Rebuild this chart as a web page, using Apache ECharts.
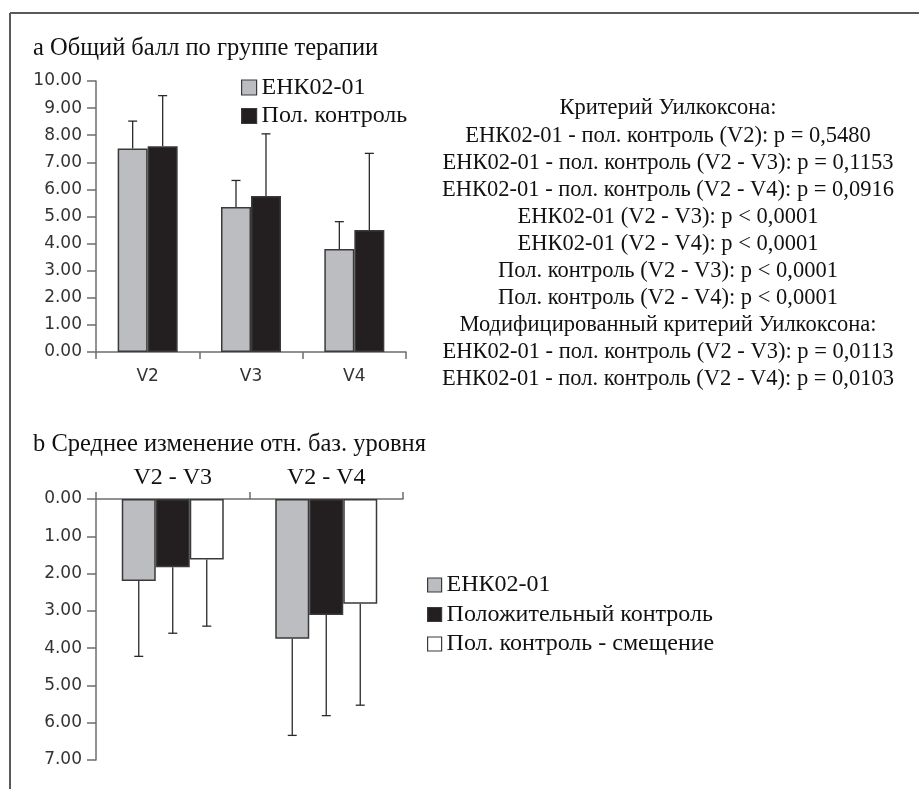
<!DOCTYPE html>
<html>
<head>
<meta charset="utf-8">
<script src="https://cdn.jsdelivr.net/npm/echarts@6/dist/echarts.min.js"></script>
<style>
html,body{margin:0;padding:0;background:#fff;}
#chart{width:919px;height:789px;}
</style>
</head>
<body>
<div id="chart"></div>
<script>
// ---- Data ----
const categoriesA = ['V2', 'V3', 'V4'];
const enkMeanA = [7.51, 5.35, 3.80];
const enkErrTopA = [8.52, 6.33, 4.81];
const ctrlMeanA = [7.59, 5.76, 4.50];
const ctrlErrTopA = [9.46, 8.05, 7.33];

const categoriesB = ['V2 - V3', 'V2 - V4'];
const enkMeanB = [2.20, 3.75];
const enkErrTopB = [4.22, 6.34];
const ctrlMeanB = [1.83, 3.11];
const ctrlErrTopB = [3.60, 5.81];
const shiftMeanB = [1.62, 2.81];
const shiftErrTopB = [3.41, 5.53];

const titleA = 'a Общий балл по группе терапии';
const titleB = 'b Среднее изменение отн. баз. уровня';
const legendA = ['ЕНК02-01', 'Пол. контроль'];
const legendB = ['ЕНК02-01', 'Положительный контроль', 'Пол. контроль - смещение'];
const statsLines = [
  'Критерий Уилкоксона:',
  'ЕНК02-01 - пол. контроль (V2): p = 0,5480',
  'ЕНК02-01 - пол. контроль (V2 - V3): p = 0,1153',
  'ЕНК02-01 - пол. контроль (V2 - V4): p = 0,0916',
  'ЕНК02-01 (V2 - V3): p < 0,0001',
  'ЕНК02-01 (V2 - V4): p < 0,0001',
  'Пол. контроль (V2 - V3): p < 0,0001',
  'Пол. контроль (V2 - V4): p < 0,0001',
  'Модифицированный критерий Уилкоксона:',
  'ЕНК02-01 - пол. контроль (V2 - V3): p = 0,0113',
  'ЕНК02-01 - пол. контроль (V2 - V4): p = 0,0103'
];

// ---- Styles ----
const SERIF = 'Liberation Serif';
const SANS = 'DejaVu Sans';
const GRAY = '#bcbdc1';
const BLACK = '#231f20';
const WHITE = '#ffffff';
const BORDER = '#3a3a3a';
const AXIS = '#6e6e6e';
const LABEL = '#333333';

function errRender(nBars, barW, idx) {
  return function (params, api) {
    const c = api.value(0), v = api.value(1), e = api.value(2);
    const base = api.coord([c, v]);
    const end = api.coord([c, e]);
    const x = base[0] + (idx - (nBars - 1) / 2) * barW;
    const style = { stroke: '#2a2a2a', lineWidth: 1.3 };
    return {
      type: 'group',
      children: [
        { type: 'line', shape: { x1: x, y1: base[1], x2: x, y2: end[1] }, style: style },
        { type: 'line', shape: { x1: x - 4.5, y1: end[1], x2: x + 4.5, y2: end[1] }, style: style }
      ]
    };
  };
}

function errData(means, tops) {
  return means.map((m, i) => [i, m, tops[i]]);
}

const chart = echarts.init(document.getElementById('chart'), null, { renderer: 'canvas' });

const legendText = { fontFamily: SERIF, fontSize: 24, color: '#111' };

const option = {
  animation: false,
  backgroundColor: '#fff',
  title: [
    { text: titleA, left: 33, top: 37, padding: 0, textStyle: { fontFamily: SERIF, fontSize: 24.5, fontWeight: 'normal', color: '#111', lineHeight: 24 } },
    { text: titleB, left: 33, top: 433, padding: 0, textStyle: { fontFamily: SERIF, fontSize: 24.5, fontWeight: 'normal', color: '#111', lineHeight: 24 } },
    { text: statsLines.join('\n'), left: 668, top: 95, padding: 0, textAlign: 'center',
      textStyle: { fontFamily: SERIF, fontSize: 22.5, fontWeight: 'normal', color: '#111', lineHeight: 27.1, align: 'center' } }
  ],
  legend: [
    {
      orient: 'vertical', left: 241, top: 75.5, padding: 0, itemWidth: 15, itemHeight: 15, itemGap: 4.5,
      textStyle: legendText, icon: 'rect',
      data: [
        { name: legendA[0], itemStyle: { color: GRAY, borderColor: BORDER, borderWidth: 1.2 } },
        { name: legendA[1], itemStyle: { color: BLACK, borderColor: BORDER, borderWidth: 1.2 } }
      ]
    },
    {
      orient: 'vertical', left: 427, top: 573, padding: 0, itemWidth: 14, itemHeight: 14, itemGap: 5.5,
      textStyle: legendText, icon: 'rect',
      data: [
        { name: legendB[0], itemStyle: { color: GRAY, borderColor: BORDER, borderWidth: 1.2 } },
        { name: legendB[1], itemStyle: { color: BLACK, borderColor: BORDER, borderWidth: 1.2 } },
        { name: legendB[2], itemStyle: { color: WHITE, borderColor: BORDER, borderWidth: 1.2 } }
      ]
    }
  ],
  grid: [
    { left: 96, top: 81, width: 310, height: 271 },
    { left: 96, top: 499, width: 307, height: 261 }
  ],
  xAxis: [
    {
      gridIndex: 0, type: 'category', data: categoriesA,
      axisLine: { lineStyle: { color: AXIS, width: 1.5 } },
      axisTick: { show: true, length: 7, alignWithLabel: false, lineStyle: { color: AXIS, width: 1.5 } },
      axisLabel: { fontFamily: SANS, fontSize: 17, color: LABEL, margin: 16 }
    },
    {
      gridIndex: 1, type: 'category', data: categoriesB, position: 'top',
      axisLine: { lineStyle: { color: AXIS, width: 1.5 } },
      axisTick: { show: true, length: 7, alignWithLabel: false, lineStyle: { color: AXIS, width: 1.5 } },
      axisLabel: { fontFamily: SERIF, fontSize: 24, color: '#111', margin: 9 }
    }
  ],
  yAxis: [
    {
      gridIndex: 0, type: 'value', min: 0, max: 10, interval: 1,
      axisLine: { show: true, lineStyle: { color: AXIS, width: 1.5 } },
      axisTick: { show: true, length: 9, lineStyle: { color: AXIS, width: 1.5 } },
      splitLine: { show: false },
      axisLabel: { fontFamily: SANS, fontSize: 17, color: LABEL, margin: 14, formatter: v => v.toFixed(2) }
    },
    {
      gridIndex: 1, type: 'value', min: 0, max: 7, interval: 1, inverse: true,
      axisLine: { show: true, lineStyle: { color: AXIS, width: 1.5 } },
      axisTick: { show: true, length: 9, lineStyle: { color: AXIS, width: 1.5 } },
      splitLine: { show: false },
      axisLabel: { fontFamily: SANS, fontSize: 17, color: LABEL, margin: 14, formatter: v => v.toFixed(2) }
    }
  ],
  series: [
    { name: legendA[0], type: 'bar', xAxisIndex: 0, yAxisIndex: 0, data: enkMeanA, barWidth: 30, barGap: '0%',
      itemStyle: { color: GRAY, borderColor: BORDER, borderWidth: 1.5 } },
    { name: legendA[1], type: 'bar', xAxisIndex: 0, yAxisIndex: 0, data: ctrlMeanA, barWidth: 30, barGap: '0%',
      itemStyle: { color: BLACK, borderColor: BORDER, borderWidth: 1.5 } },
    { name: 'errA0', type: 'custom', xAxisIndex: 0, yAxisIndex: 0, renderItem: errRender(2, 30, 0),
      data: errData(enkMeanA, enkErrTopA), encode: { x: 0, y: [1, 2] }, z: 1 },
    { name: 'errA1', type: 'custom', xAxisIndex: 0, yAxisIndex: 0, renderItem: errRender(2, 30, 1),
      data: errData(ctrlMeanA, ctrlErrTopA), encode: { x: 0, y: [1, 2] }, z: 1 },

    { name: legendB[0], type: 'bar', xAxisIndex: 1, yAxisIndex: 1, data: enkMeanB, barWidth: 34, barGap: '0%',
      itemStyle: { color: GRAY, borderColor: BORDER, borderWidth: 1.5 } },
    { name: legendB[1], type: 'bar', xAxisIndex: 1, yAxisIndex: 1, data: ctrlMeanB, barWidth: 34, barGap: '0%',
      itemStyle: { color: BLACK, borderColor: BORDER, borderWidth: 1.5 } },
    { name: legendB[2], type: 'bar', xAxisIndex: 1, yAxisIndex: 1, data: shiftMeanB, barWidth: 34, barGap: '0%',
      itemStyle: { color: WHITE, borderColor: BORDER, borderWidth: 1.5 } },
    { name: 'errB0', type: 'custom', xAxisIndex: 1, yAxisIndex: 1, renderItem: errRender(3, 34, 0),
      data: errData(enkMeanB, enkErrTopB), encode: { x: 0, y: [1, 2] }, z: 1 },
    { name: 'errB1', type: 'custom', xAxisIndex: 1, yAxisIndex: 1, renderItem: errRender(3, 34, 1),
      data: errData(ctrlMeanB, ctrlErrTopB), encode: { x: 0, y: [1, 2] }, z: 1 },
    { name: 'errB2', type: 'custom', xAxisIndex: 1, yAxisIndex: 1, renderItem: errRender(3, 34, 2),
      data: errData(shiftMeanB, shiftErrTopB), encode: { x: 0, y: [1, 2] }, z: 1 }
  ],
  graphic: [
    { type: 'line', shape: { x1: 10, y1: 13, x2: 919, y2: 13 }, style: { stroke: '#5a5a5a', lineWidth: 2 } },
    { type: 'line', shape: { x1: 10, y1: 13, x2: 10, y2: 789 }, style: { stroke: '#5a5a5a', lineWidth: 2 } }
  ]
};

chart.setOption(option);
</script>
</body>
</html>
